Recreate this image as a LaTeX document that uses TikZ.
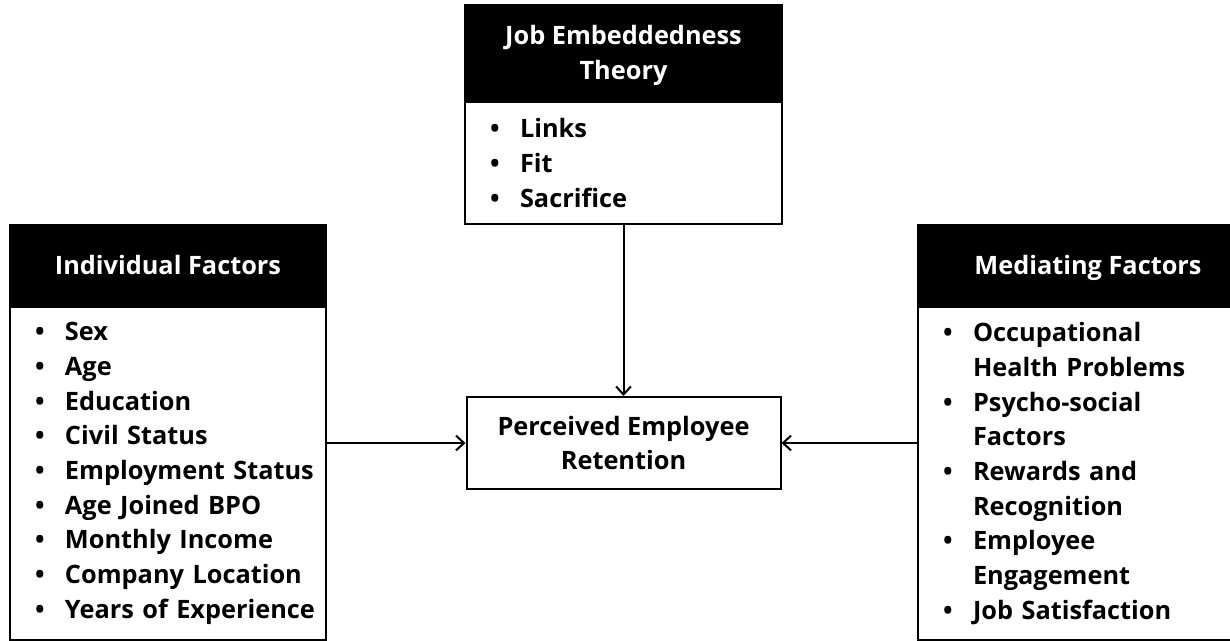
\documentclass[tikz,border=0pt]{standalone}
\usepackage{fontspec}
\setmainfont{Open Sans}
\usetikzlibrary{positioning, arrows.meta}

\tikzset{
  every node/.style={font=\fontsize{19}{26}\selectfont\bfseries},
  head/.style={draw=black, line width=1.5pt, fill=black, text=white, align=center, inner sep=0pt, text depth=0pt},
  listbox/.style={draw=black, line width=1.5pt, fill=white, align=left, inner ysep=0pt, inner xsep=3pt},
  link/.style={line width=1.5pt, -{Straight Barb[length=6pt, width=11pt]}}
}
\newcommand{\itm}{\hspace*{15.75pt}\makebox[22.5pt][l]{\textbullet}}
\newcommand{\cnt}{\hspace*{38.25pt}}

\begin{document}
\begin{tikzpicture}[x=0.75pt, y=-0.75pt]
   \clip (0,0) rectangle (1230,640);

   % Boxes
   \node[head, minimum width=237.75pt, minimum height=71.25pt] (theoryhead) at (623.5,52.5)
        {Job Embeddedness\\Theory};
   \node[listbox, minimum width=237.75pt, minimum height=91.5pt, text width=231.75pt]
        (theorybody) [below=0pt of theoryhead]
        {\itm Links\\ \itm Fit\\ \itm Sacrifice};

   \node[head, minimum width=237pt, minimum height=60pt] (indhead) at (168,265) {Individual Factors};
   \node[listbox, minimum width=237pt, minimum height=249.75pt, text width=231pt]
        (indbody) [below=0pt of indhead]
        {\itm Sex\\ \itm Age\\ \itm Education\\ \itm Civil Status\\ \itm Employment Status\\
         \itm Age Joined BPO\\ \itm Monthly Income\\ \itm Company Location\\ \itm Years of Experience};

   \node[head, minimum width=255pt, minimum height=60pt] (medhead) at (1088,265) {Mediating Factors};
   \node[listbox, minimum width=255pt, minimum height=249.75pt, text width=249pt]
        (medbody) [below=0pt of medhead]
        {\itm Occupational\\ \cnt Health Problems\\ \itm Psycho-social\\ \cnt Factors\\
         \itm Rewards and\\ \cnt Recognition\\ \itm Employee\\ \cnt Engagement\\ \itm Job Satisfaction};

   \node[draw=black, line width=1.5pt, align=center, minimum width=235.5pt, minimum height=69pt]
        (retention) at (623.5,443) {Perceived Employee\\Retention};

   % Connectors
   \draw[link] (theorybody) -- (retention);
   \draw[link] (indbody.east |- retention) -- (retention);
   \draw[link] (medbody.west |- retention) -- (retention);
\end{tikzpicture}
\end{document}
